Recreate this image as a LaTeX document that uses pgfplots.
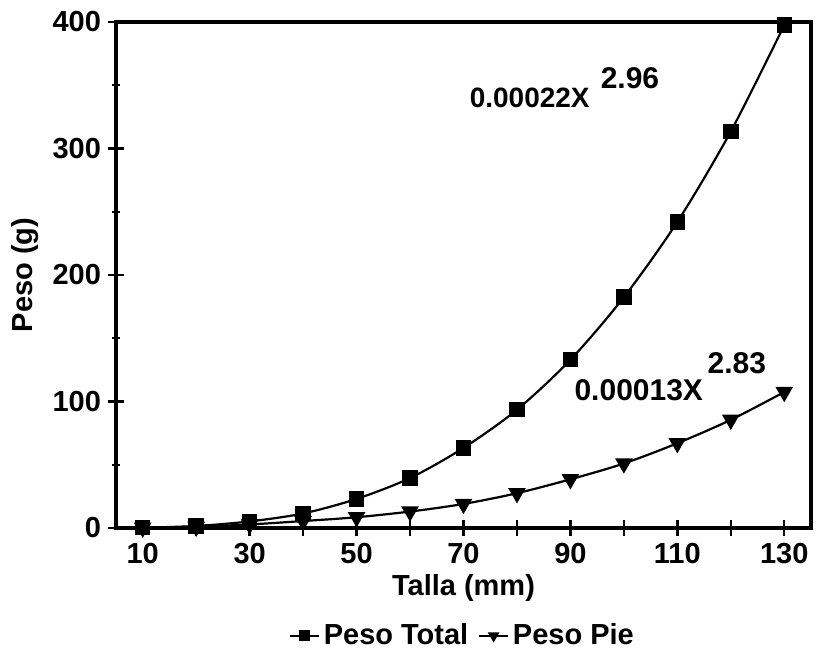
\documentclass[border=0pt]{standalone}
\usepackage{fontspec}
\setmainfont{Liberation Sans}
\usepackage{pgfplots}
\pgfplotsset{compat=1.18}
\usetikzlibrary{calc}
\begin{document}
\begin{tikzpicture}
\begin{axis}[
 scale only axis, width=347.5pt, height=253pt,
 xmin=5, xmax=135, ymin=0, ymax=400,
 xtick={10,20,...,130}, xticklabels={10,,30,,50,,70,,90,,110,,130},
 ytick={0,100,...,400}, minor ytick={50,150,250,350},
 xtick pos=bottom, ytick pos=left,
 tick align=center, major tick length=8pt, minor tick length=4pt,
 axis line style={line width=1.6pt},
 major tick style={line width=1.2pt, black},
 minor tick style={line width=1.2pt, black},
 /pgf/number format/assume math mode=true,
 tick label style={font=\fontsize{14.5}{16}\selectfont\bfseries},
 label style={font=\fontsize{14.5}{16}\selectfont\bfseries},
 xlabel={Talla (mm)}, ylabel={Peso (g)},
 xlabel style={at={(axis description cs:0.5,-0.119)}, anchor=center},
 ylabel style={at={(axis description cs:-0.131,0.5)}, anchor=center},
 legend style={at={(axis description cs:0.5,-0.213)}, anchor=center, draw=none,
   legend columns=-1, font=\fontsize{14.5}{16}\selectfont\bfseries,
   /tikz/every even column/.append style={column sep=3pt},
   inner sep=0pt},
 legend image code/.code={\draw[mark repeat=2,mark phase=2,#1,mark size=2.3pt] plot coordinates {(0cm,0cm)(0.25cm,0cm)(0.5cm,0cm)};},
]
\addplot[black, line width=1.1pt, smooth, mark=square*, mark size=3.3pt, mark options={solid}] coordinates {
(10,0.2)(20,1.6)(30,5.2)(40,11.5)(50,23)(60,39.5)(70,63.3)(80,93.5)(90,133)(100,182.5)(110,242)(120,313.5)(130,397.5)};
\addlegendentry{Peso Total}
\addplot[black, line width=1.1pt, smooth, mark=triangle*, mark size=4pt, mark options={solid, rotate=180}] coordinates {
(10,0.2)(20,1.0)(30,2.8)(40,5.5)(50,8.5)(60,13)(70,19)(80,27.5)(90,38.5)(100,51)(110,67)(120,85.5)(130,107.5)};
\addlegendentry{Peso Pie}
\node[anchor=base west, inner sep=0pt, font=\fontsize{14}{15}\selectfont\bfseries] at (axis cs:71.1,332.8) {0.00022X};
\node[anchor=base west, inner sep=0pt, font=\fontsize{15}{17}\selectfont\bfseries] at (axis cs:95.6,347.8) {2.96};
\node[anchor=base west, inner sep=0pt, font=\fontsize{15}{17}\selectfont\bfseries] at (axis cs:90.7,101) {0.00013X};
\node[anchor=base west, inner sep=0pt, font=\fontsize{15}{17}\selectfont\bfseries] at (axis cs:115.6,122.5) {2.83};
\end{axis}
\pgfresetboundingbox
\path[use as bounding box] ($(current axis.south west)+(-58pt,-68.5pt)$) rectangle ($(current axis.south west)+(350pt,264pt)$);
\end{tikzpicture}
\end{document}
